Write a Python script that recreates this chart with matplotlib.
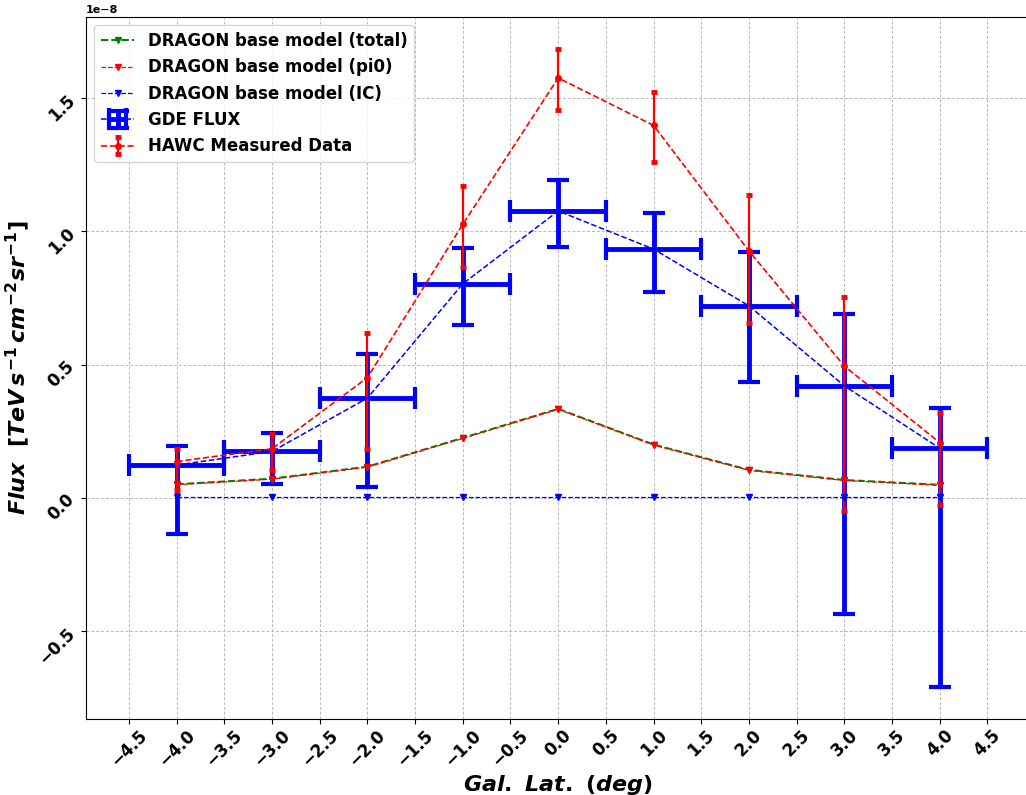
import matplotlib
matplotlib.use("Agg")
import matplotlib.pyplot as plt
import numpy as np

plt.rcParams['font.weight'] = 'bold'
plt.rcParams['mathtext.fontset'] = 'custom'
plt.rcParams['mathtext.it'] = 'DejaVu Sans:italic:bold'
plt.rcParams['mathtext.rm'] = 'DejaVu Sans:bold'
plt.rcParams['mathtext.bf'] = 'DejaVu Sans:bold'

scale = 1e-8

# latitude bins (deg) and half widths
lat = [-4.0, -3.0, -2.0, -1.0, 0.0, 1.0, 2.0, 3.0, 4.0]
lat_halfwidth = [0.5, 0.5, 0.5, 0.5, 0.5, 0.5, 0.5, 0.5, 0.5]

# GDE flux, in units of 1e-8
gde_flux = [0.123, 0.174, 0.374, 0.803, 1.076, 0.933, 0.720, 0.420, 0.186]
gde_hi = [0.196, 0.243, 0.539, 0.936, 1.192, 1.070, 0.923, 0.691, 0.336]
gde_lo = [-0.134, 0.051, 0.042, 0.649, 0.940, 0.771, 0.436, -0.434, -0.710]

# HAWC measured points
hawc_flux = [0.136, 0.184, 0.451, 1.026, 1.575, 1.397, 0.926, 0.494, 0.207]
hawc_hi = [0.185, 0.240, 0.620, 1.169, 1.684, 1.523, 1.135, 0.752, 0.320]
hawc_lo = [0.030, 0.106, 0.183, 0.865, 1.455, 1.261, 0.657, -0.049, -0.026]

# DRAGON base model
dragon_total = [0.051, 0.072, 0.117, 0.225, 0.334, 0.200, 0.105, 0.067, 0.049]
dragon_pi0 = [0.049, 0.070, 0.115, 0.223, 0.332, 0.198, 0.103, 0.065, 0.047]
dragon_ic = [0.002, 0.002, 0.002, 0.002, 0.002, 0.002, 0.002, 0.002, 0.002]

xticks = np.arange(-4.5, 4.51, 0.5)

lat = np.array(lat)
g = np.array(gde_flux) * scale
g_err = [g - np.array(gde_lo) * scale, np.array(gde_hi) * scale - g]
h = np.array(hawc_flux) * scale
h_err = [h - np.array(hawc_lo) * scale, np.array(hawc_hi) * scale - h]

fig = plt.figure(figsize=(10.26, 7.95), dpi=100)
ax = fig.add_axes([0.0838, 0.0956, 0.9205, 0.883])

ax.errorbar(lat, g, yerr=g_err, xerr=lat_halfwidth, fmt='--', color='blue',
            lw=1.1, elinewidth=3.5, capsize=8, capthick=3, label='GDE FLUX')
ax.errorbar(lat, h, yerr=h_err, fmt='o--', color='red', ms=4, lw=1.2,
            elinewidth=1.6, capsize=2.5, capthick=3.5, label='HAWC Measured Data')

ax.plot(lat, np.array(dragon_total) * scale, 'v--', color='green', lw=1.4, ms=5,
        label='DRAGON base model (total)')
ax.plot(lat, np.array(dragon_pi0) * scale, 'v--', color='red', lw=0.9, ms=5,
        label='DRAGON base model (pi0)')
ax.plot(lat, np.array(dragon_ic) * scale, 'v--', color='blue', lw=0.9, ms=5,
        label='DRAGON base model (IC)')

ax.set_xticks(xticks)
ax.tick_params(axis='both', labelsize=12, labelrotation=45, pad=2)
for lbl in ax.get_xticklabels() + ax.get_yticklabels():
    lbl.set_fontweight('bold')
ax.yaxis.get_offset_text().set_fontweight('bold')
ax.yaxis.get_offset_text().set_fontsize(8)

ax.grid(True, ls=(0, (3, 2)), color='0.72', lw=0.7)
ax.set_axisbelow(True)

ax.set_xlabel(r'$Gal.\ Lat.\ (deg)$', fontsize=16, labelpad=2)
ax.set_ylabel(r'$Flux\ \ [TeV\,s^{-1}\,cm^{-2}sr^{-1}]$', fontsize=16, labelpad=2)

ax.legend(loc='upper left', prop={'size': 12, 'weight': 'bold'})

fig.savefig('out.png', dpi=100)
